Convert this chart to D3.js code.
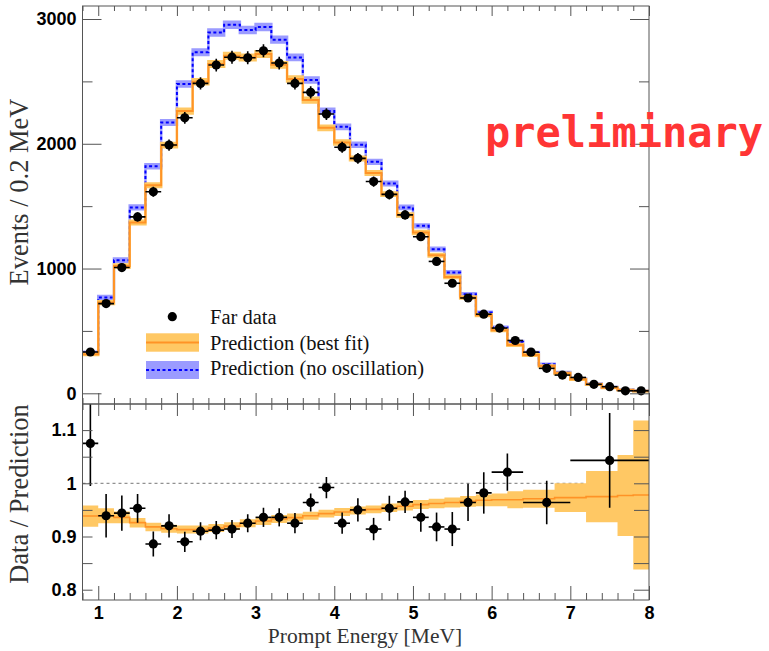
<!DOCTYPE html>
<html><head><meta charset="utf-8">
<script src="https://cdn.jsdelivr.net/npm/d3@7"></script>
<style>body{margin:0;background:#fff}svg{display:block}</style>
</head><body><svg id="c" width="769" height="651"></svg>
<script>
// ---------------- data ----------------
const binCenters = [0.9,1.1,1.3,1.5,1.7,1.9,2.1,2.3,2.5,2.7,2.9,3.1,3.3,3.5,3.7,3.9,4.1,4.3,4.5,4.7,4.9,5.1,5.3,5.5,5.7,5.9,6.1,6.3,6.5,6.7,6.9,7.1,7.3,7.5,7.7,7.9];
const farData = [331,719,1008,1414,1615,1990,2208,2484,2631,2694,2689,2745,2647,2484,2412,2238,1972,1883,1697,1594,1430,1255,1057,882,764,634,523,423,330,200,146,127,72,53,20,20];
const farDataErr = [18,27,32,38,40,45,47,50,51,52,52,52,51,50,49,47,44,43,41,40,38,35,33,30,28,25,23,21,18,14,12,11,8,7,5,5];
const predBestFit = [313,727,1021,1369,1668,1989,2262,2497,2639,2706,2692,2719,2633,2519,2350,2128,2011,1882,1765,1596,1430,1289,1107,933,768,626,505,388,307,219,160,112,72,45,27,18];
const predNoOsc = [326,768,1067,1490,1820,2171,2479,2733,2892,2954,2912,2936,2834,2692,2512,2262,2136,1992,1855,1682,1490,1342,1155,968,794,647,527,412,326,233,166,116,75,48,28,19];
// ratio panel prediction band (per 0.2 MeV bin)
const ratioBand = [0.9385,0.939,0.936,0.926,0.918,0.9145,0.913,0.913,0.916,0.9195,0.925,0.929,0.933,0.9355,0.939,0.943,0.946,0.949,0.951,0.954,0.957,0.960,0.962,0.964,0.966,0.968,0.969,0.969,0.971,0.971,0.973,0.973,0.975,0.975,0.977,0.978];
const ratioBandErr = [0.020,0.014,0.011,0.009,0.008,0.0075,0.0075,0.0075,0.0075,0.0075,0.0075,0.0075,0.0075,0.0075,0.0075,0.0075,0.0075,0.0075,0.0075,0.008,0.008,0.0085,0.009,0.0095,0.010,0.011,0.012,0.016,0.017,0.017,0.027,0.027,0.048,0.048,0.076,0.140];
// ratio data points (last bins merged)
const ratioLo = [0.8,1.0,1.2,1.4,1.6,1.8,2.0,2.2,2.4,2.6,2.8,3.0,3.2,3.4,3.6,3.8,4.0,4.2,4.4,4.6,4.8,5.0,5.2,5.4,5.6,5.8,6.0,6.4,7.0];
const ratioHi = [1.0,1.2,1.4,1.6,1.8,2.0,2.2,2.4,2.6,2.8,3.0,3.2,3.4,3.6,3.8,4.0,4.2,4.4,4.6,4.8,5.0,5.2,5.4,5.6,5.8,6.0,6.4,7.0,8.0];
const ratioData = [1.075,0.939,0.944,0.953,0.886,0.920,0.890,0.910,0.912,0.914,0.925,0.936,0.936,0.925,0.964,0.992,0.925,0.950,0.914,0.953,0.965,0.936,0.918,0.914,0.964,0.982,1.021,0.964,1.043];
const ratioErr = [0.08,0.041,0.033,0.027,0.0235,0.022,0.019,0.017,0.017,0.017,0.017,0.018,0.017,0.019,0.017,0.02,0.02,0.022,0.021,0.0235,0.021,0.027,0.027,0.032,0.035,0.039,0.035,0.041,0.089];
// ticks
const xTickValues = [1,2,3,4,5,6,7,8];
const xTickLabels = ["1","2","3","4","5","6","7","8"];
const topTickValues = [0,1000,2000,3000];
const topTickLabels = ["0","1000","2000","3000"];
const topMinorTicks = [500,1500,2500];
const ratioTickValues = [0.8,0.9,1.0,1.1];
const ratioTickLabels = ["0.8","0.9","1","1.1"];
const ratioMinorTicks = [0.85,0.95,1.05];
const legendLabels = ["Far data","Prediction (best fit)","Prediction (no oscillation)"];
const axisTitles = {x:"Prompt Energy [MeV]", yTop:"Events / 0.2 MeV", yBottom:"Data / Prediction"};

// ---------------- layout ----------------
const binHalf = 0.1;
const L = 82.5, R = 649, T1 = 6, B1 = 404, T2 = 404, B2 = 600;
const C = {orangeBand:"#ffc864", orangeLine:"#ff9326", blueBand:"#9b9bff", blueLine:"#0000ff", frame:"#555"};
const tickFont = "'Liberation Sans', Arial, Helvetica, sans-serif";
const serif = "'Liberation Serif', 'Times New Roman', serif";

const svg = d3.select("#c");
svg.append("rect").attr("width",769).attr("height",651).attr("fill","#fff");

const x = d3.scaleLinear().domain([0.8, 8]).range([L, R]);
const yTop = d3.scaleLinear().domain([0, 3000]).range([393.3, 19]);
const yRat = d3.scaleLinear().domain([1, 1.1]).range([483.3, 430.1]);

const defs = svg.append("defs");
defs.append("clipPath").attr("id","clipTop").append("rect").attr("x",L).attr("y",T1).attr("width",R-L).attr("height",B1-T1);
defs.append("clipPath").attr("id","clipBot").append("rect").attr("x",L).attr("y",T2).attr("width",R-L).attr("height",B2-T2);

function stepPoints(vals){
  const pts=[];
  vals.forEach((v,i)=>{pts.push([binCenters[i]-binHalf,v]);pts.push([binCenters[i]+binHalf,v]);});
  return pts;
}
function stepBand(vals, relErr){
  const pts=[];
  vals.forEach((v,i)=>{const e=v*relErr[i];pts.push([binCenters[i]-binHalf,v-e,v+e]);pts.push([binCenters[i]+binHalf,v-e,v+e]);});
  return pts;
}
const relErr = ratioBand.map((c,i)=>ratioBandErr[i]/c);

// ---------------- top panel ----------------
const gTop = svg.append("g").attr("clip-path","url(#clipTop)");
const areaTop = d3.area().x(d=>x(d[0])).y0(d=>yTop(d[1])).y1(d=>yTop(d[2]));
const lineTop = d3.line().x(d=>x(d[0])).y(d=>yTop(d[1]));

gTop.append("path").attr("d",areaTop(stepBand(predNoOsc, relErr))).attr("fill",C.blueBand).attr("stroke",C.blueBand).attr("stroke-width",2.5);
gTop.append("path").attr("d",lineTop(stepPoints(predNoOsc))).attr("fill","none").attr("stroke",C.blueLine).attr("stroke-width",2).attr("stroke-dasharray","3,2.5");
gTop.append("path").attr("d",areaTop(stepBand(predBestFit, relErr))).attr("fill",C.orangeBand).attr("stroke",C.orangeBand).attr("stroke-width",2.5);
gTop.append("path").attr("d",lineTop(stepPoints(predBestFit))).attr("fill","none").attr("stroke",C.orangeLine).attr("stroke-width",2);

const pts = gTop.append("g");
binCenters.forEach((e,i)=>{
  pts.append("line").attr("x1",x(e-binHalf)).attr("x2",x(e+binHalf)).attr("y1",yTop(farData[i])).attr("y2",yTop(farData[i])).attr("stroke","#000").attr("stroke-width",1.6);
  pts.append("line").attr("x1",x(e)).attr("x2",x(e)).attr("y1",yTop(farData[i]-farDataErr[i])).attr("y2",yTop(farData[i]+farDataErr[i])).attr("stroke","#000").attr("stroke-width",1.6);
  pts.append("circle").attr("cx",x(e)).attr("cy",yTop(farData[i])).attr("r",4.6).attr("fill","#000");
});

// ---------------- bottom panel ----------------
const gBot = svg.append("g").attr("clip-path","url(#clipBot)");
const areaBot = d3.area().x(d=>x(d[0])).y0(d=>yRat(d[1])).y1(d=>yRat(d[2]));
const lineBot = d3.line().x(d=>x(d[0])).y(d=>yRat(d[1]));
const bandPts=[], bandLine=[];
ratioBand.forEach((c,i)=>{
  const e=ratioBandErr[i];
  bandPts.push([binCenters[i]-binHalf,c-e,c+e]); bandPts.push([binCenters[i]+binHalf,c-e,c+e]);
  bandLine.push([binCenters[i]-binHalf,c]); bandLine.push([binCenters[i]+binHalf,c]);
});
gBot.append("line").attr("x1",L).attr("x2",R).attr("y1",yRat(1)).attr("y2",yRat(1)).attr("stroke","#666").attr("stroke-width",0.9).attr("stroke-dasharray","3,3");
gBot.append("path").attr("d",areaBot(bandPts)).attr("fill",C.orangeBand);
gBot.append("path").attr("d",lineBot(bandLine)).attr("fill","none").attr("stroke",C.orangeLine).attr("stroke-width",1.6);
ratioData.forEach((r,i)=>{
  const xc = (ratioLo[i]+ratioHi[i])/2;
  gBot.append("line").attr("x1",x(ratioLo[i])).attr("x2",x(ratioHi[i])).attr("y1",yRat(r)).attr("y2",yRat(r)).attr("stroke","#000").attr("stroke-width",1.6);
  gBot.append("line").attr("x1",x(xc)).attr("x2",x(xc)).attr("y1",yRat(r-ratioErr[i])).attr("y2",yRat(r+ratioErr[i])).attr("stroke","#000").attr("stroke-width",1.6);
  gBot.append("circle").attr("cx",x(xc)).attr("cy",yRat(r)).attr("r",4.6).attr("fill","#000");
});

// ---------------- axes ----------------
const minorX = d3.range(0.8, 8.001, 0.2).map(v=>+v.toFixed(1)).filter(v=>Math.abs(v-Math.round(v))>1e-6);
function clean(g){ g.select(".domain").remove(); g.selectAll(".tick line").attr("stroke",C.frame); }
function styleLabels(g){ g.selectAll("text").attr("font-family",tickFont).attr("font-weight","bold").attr("font-size",18).attr("fill","#000"); }

// top panel
svg.append("g").attr("transform",`translate(${L},0)`).call(d3.axisLeft(yTop).tickValues(topTickValues).tickSizeInner(-19).tickSizeOuter(0).tickPadding(6).tickFormat((d,i)=>topTickLabels[i])).call(clean).call(styleLabels);
svg.append("g").attr("transform",`translate(${L},0)`).call(d3.axisLeft(yTop).tickValues(topMinorTicks).tickSizeInner(-10).tickSizeOuter(0).tickFormat("")).call(clean);
svg.append("g").attr("transform",`translate(${R},0)`).call(d3.axisRight(yTop).tickValues(topTickValues).tickSizeInner(-19).tickSizeOuter(0).tickFormat("")).call(clean);
svg.append("g").attr("transform",`translate(${R},0)`).call(d3.axisRight(yTop).tickValues(topMinorTicks).tickSizeInner(-10).tickSizeOuter(0).tickFormat("")).call(clean);
svg.append("g").attr("transform",`translate(0,${T1})`).call(d3.axisTop(x).tickValues(xTickValues).tickSizeInner(-10).tickSizeOuter(0).tickFormat("")).call(clean);
svg.append("g").attr("transform",`translate(0,${T1})`).call(d3.axisTop(x).tickValues(minorX).tickSizeInner(-5).tickSizeOuter(0).tickFormat("")).call(clean);
svg.append("g").attr("transform",`translate(0,${B1})`).call(d3.axisBottom(x).tickValues(xTickValues).tickSizeInner(-11).tickSizeOuter(0).tickFormat("")).call(clean);
svg.append("g").attr("transform",`translate(0,${B1})`).call(d3.axisBottom(x).tickValues(minorX).tickSizeInner(-6).tickSizeOuter(0).tickFormat("")).call(clean);

// bottom panel
svg.append("g").attr("transform",`translate(${L},0)`).call(d3.axisLeft(yRat).tickValues(ratioTickValues).tickSizeInner(-10).tickSizeOuter(0).tickPadding(6).tickFormat((d,i)=>ratioTickLabels[i])).call(clean).call(styleLabels);
svg.append("g").attr("transform",`translate(${L},0)`).call(d3.axisLeft(yRat).tickValues(ratioMinorTicks).tickSizeInner(-10).tickSizeOuter(0).tickFormat("")).call(clean);
svg.append("g").attr("transform",`translate(${R},0)`).call(d3.axisRight(yRat).tickValues(ratioTickValues.concat(ratioMinorTicks)).tickSizeInner(-15).tickSizeOuter(0).tickFormat("")).call(clean);
svg.append("g").attr("transform",`translate(0,${T2})`).call(d3.axisTop(x).tickValues(xTickValues).tickSizeInner(-12).tickSizeOuter(0).tickFormat("")).call(clean);
svg.append("g").attr("transform",`translate(0,${T2})`).call(d3.axisTop(x).tickValues(minorX).tickSizeInner(-6).tickSizeOuter(0).tickFormat("")).call(clean);
svg.append("g").attr("transform",`translate(0,${B2})`).call(d3.axisBottom(x).tickValues(xTickValues).tickSizeInner(-14).tickSizeOuter(0).tickPadding(6.5).tickFormat((d,i)=>xTickLabels[i])).call(clean).call(styleLabels);
svg.append("g").attr("transform",`translate(0,${B2})`).call(d3.axisBottom(x).tickValues(minorX).tickSizeInner(-7).tickSizeOuter(0).tickFormat("")).call(clean);

// frames
svg.append("rect").attr("x",L).attr("y",T1).attr("width",R-L).attr("height",B1-T1).attr("fill","none").attr("stroke",C.frame).attr("stroke-width",1);
svg.append("rect").attr("x",L).attr("y",T2).attr("width",R-L).attr("height",B2-T2).attr("fill","none").attr("stroke",C.frame).attr("stroke-width",1);

// titles
svg.append("text").attr("x",365).attr("y",643).attr("text-anchor","middle").attr("font-family",serif).attr("font-size",21.5).attr("fill","#333").text(axisTitles.x);
svg.append("text").attr("transform","translate(27.5,192) rotate(-90)").attr("text-anchor","middle").attr("font-family",serif).attr("font-size",26.5).attr("fill","#333").text(axisTitles.yTop);
svg.append("text").attr("transform","translate(27.5,494) rotate(-90)").attr("text-anchor","middle").attr("font-family",serif).attr("font-size",26.5).attr("fill","#333").text(axisTitles.yBottom);

// legend
const lg = svg.append("g");
lg.append("circle").attr("cx",172.3).attr("cy",316.7).attr("r",4.6).attr("fill","#000");
lg.append("rect").attr("x",146).attr("y",333.3).attr("width",53).attr("height",18.4).attr("fill",C.orangeBand);
lg.append("line").attr("x1",146).attr("x2",199).attr("y1",342.5).attr("y2",342.5).attr("stroke",C.orangeLine).attr("stroke-width",2);
lg.append("rect").attr("x",146).attr("y",361).attr("width",53).attr("height",18).attr("fill",C.blueBand);
lg.append("line").attr("x1",146).attr("x2",199).attr("y1",370).attr("y2",370).attr("stroke",C.blueLine).attr("stroke-width",2).attr("stroke-dasharray","3,2.5");
[324,350,375].forEach((yb,i)=>{
  lg.append("text").attr("x",210).attr("y",yb).attr("font-family",serif).attr("font-size",20.5).attr("fill","#111").text(legendLabels[i]);
});

// watermark
svg.append("text").attr("x",485).attr("y",147).attr("font-family","'DejaVu Sans Mono', monospace").attr("font-weight","bold").attr("font-size",42).attr("fill","#ff3535").text("preliminary");
</script></body></html>
